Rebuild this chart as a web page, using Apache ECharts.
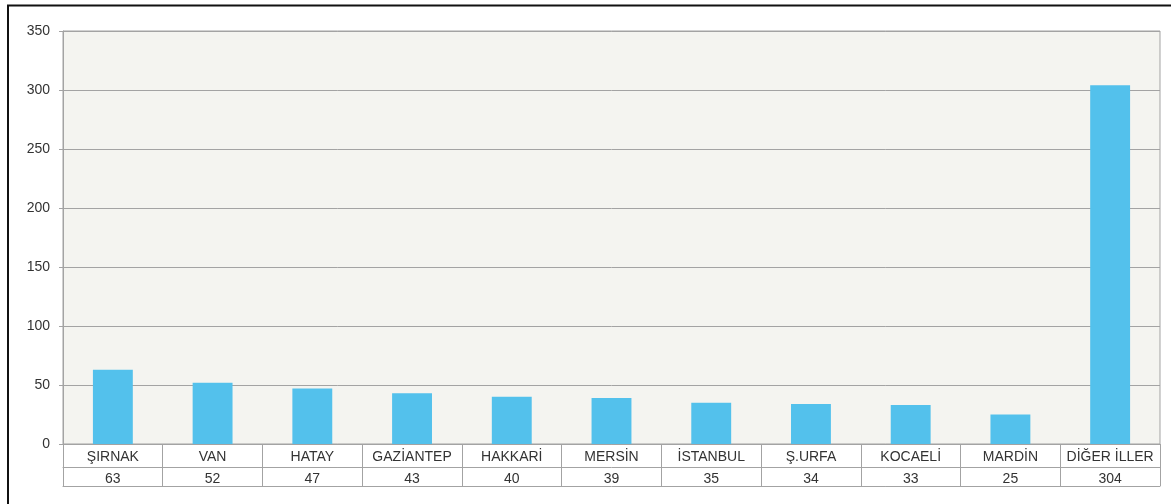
<!DOCTYPE html>
<html>
<head>
<meta charset="utf-8">
<script src="https://cdn.jsdelivr.net/npm/echarts@6/dist/echarts.min.js"></script>
<style>
html,body{margin:0;padding:0;background:#fff;}
#c{width:1171px;height:504px;}
</style>
</head>
<body>
<div id="c"></div>
<script>
const categories = ['ŞIRNAK','VAN','HATAY','GAZİANTEP','HAKKARİ','MERSİN','İSTANBUL','Ş.URFA','KOCAELİ','MARDİN','DİĞER İLLER'];
const values = [63, 52, 47, 43, 40, 39, 35, 34, 33, 25, 304];
const yTicks = { min: 0, max: 350, interval: 50 };

const gridColor = '#a3a3a3';
const txt = '#333';
const fontFam = '"Liberation Sans", Arial, sans-serif';

const chart = echarts.init(document.getElementById('c'), null, {renderer: 'canvas'});
chart.setOption({
  animation: false,
  backgroundColor: '#fff',
  grid: {
    left: 63, right: 11, top: 31, bottom: 60,
    show: true, backgroundColor: '#f4f4f0', borderColor: gridColor, borderWidth: 1
  },
  graphic: [
    {type: 'line', shape: {x1: 7, y1: 5.5, x2: 1171, y2: 5.5}, style: {stroke: '#111', lineWidth: 2}},
    {type: 'line', shape: {x1: 8, y1: 5, x2: 8, y2: 504}, style: {stroke: '#111', lineWidth: 2}}
  ],
  xAxis: [
    {
      type: 'category', data: categories, position: 'bottom', gridIndex: 0,
      axisLine: {show: true, lineStyle: {color: gridColor}},
      axisTick: {show: true, length: 42, interval: 0, lineStyle: {color: gridColor}},
      axisLabel: {interval: 0, margin: 6, color: txt, fontSize: 14, fontFamily: fontFam, lineHeight: 14}
    },
    {
      type: 'category', data: values.map(String), position: 'bottom', offset: 23, gridIndex: 0,
      axisLine: {show: true, lineStyle: {color: gridColor}},
      axisTick: {show: false},
      axisLabel: {interval: 0, margin: 5, color: txt, fontSize: 14, fontFamily: fontFam, lineHeight: 14}
    },
    {
      type: 'category', data: categories, position: 'bottom', offset: 42, gridIndex: 0,
      axisLine: {show: true, lineStyle: {color: gridColor}},
      axisTick: {show: false},
      axisLabel: {show: false}
    }
  ],
  yAxis: {
    type: 'value', min: yTicks.min, max: yTicks.max, interval: yTicks.interval,
    axisLine: {show: true, lineStyle: {color: gridColor}},
    axisTick: {show: true, length: 4, lineStyle: {color: gridColor}},
    axisLabel: {margin: 13, color: txt, fontSize: 14, fontFamily: fontFam},
    splitLine: {show: true, lineStyle: {color: gridColor, width: 1}}
  },
  series: [{
    type: 'bar', data: values, xAxisIndex: 0, barWidth: '40%',
    itemStyle: {color: '#53c1ec'}
  }]
});
</script>
</body>
</html>
